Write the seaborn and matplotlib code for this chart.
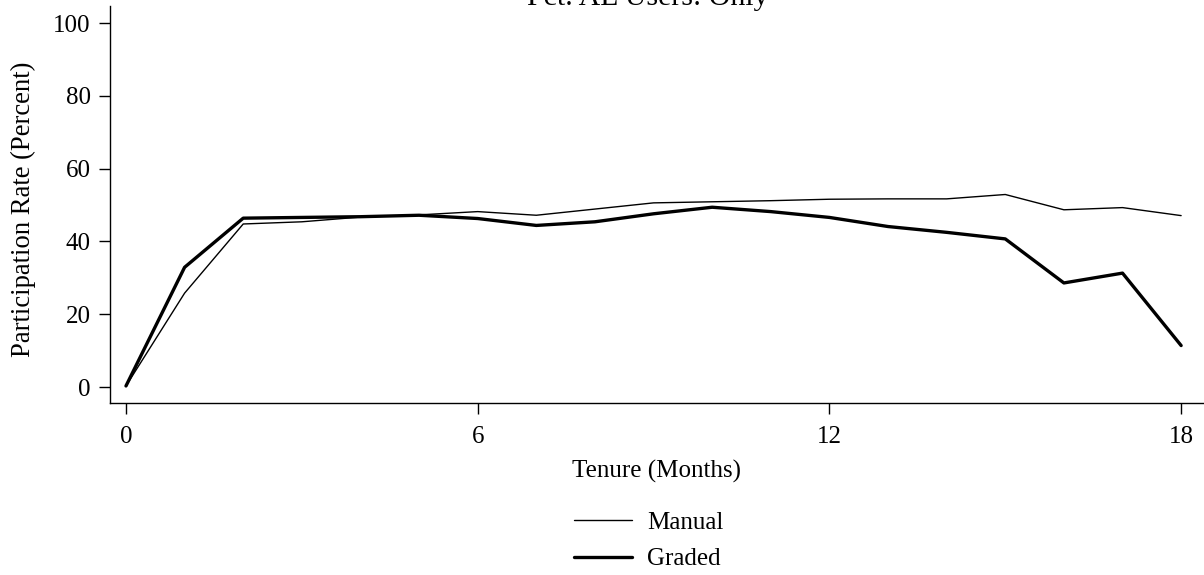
import matplotlib
matplotlib.use("Agg")
import matplotlib.pyplot as plt
import seaborn as sns
import pandas as pd

# Participation rate by tenure month, manual vs. graded
months = list(range(0, 19))
manual = [0.3, 25.8, 44.8, 45.4, 46.7, 47.3, 48.2, 47.2, 48.9, 50.6,
          50.9, 51.2, 51.6, 51.7, 51.7, 52.9, 48.7, 49.3, 47.1]
graded = [0.3, 32.9, 46.4, 46.6, 46.8, 47.2, 46.3, 44.4, 45.4, 47.6,
          49.4, 48.2, 46.6, 44.1, 42.5, 40.7, 28.6, 31.3, 11.4]
x_ticks = [0, 6, 12, 18]
y_ticks = [0, 20, 40, 60, 80, 100]
title = "Pct. AL Users: Only"

sns.set_theme(style="ticks")
plt.rcParams["font.family"] = ["Liberation Serif", "DejaVu Serif"]
plt.rcParams["font.size"] = 18
plt.rcParams["text.color"] = "black"
plt.rcParams["axes.labelcolor"] = "black"

df = pd.DataFrame({"Tenure": months, "Manual": manual, "Graded": graded})

fig = plt.figure(figsize=(12.04, 5.75), dpi=100)
ax = fig.add_axes([0.091, 0.2984, 0.909, 0.6906])

sns.lineplot(data=df, x="Tenure", y="Manual", ax=ax, color="black",
             linewidth=1.0, label="Manual")
sns.lineplot(data=df, x="Tenure", y="Graded", ax=ax, color="black",
             linewidth=2.4, label="Graded")

ax.set_xlim(-0.28, 18.39)
ax.set_ylim(-4.5, 104.6)
ax.set_xticks(x_ticks)
ax.set_yticks(y_ticks)
ax.tick_params(axis="both", labelsize=18, length=8, width=1.0,
               color="black", labelcolor="black")
ax.tick_params(axis="x", pad=8.5)
ax.tick_params(axis="y", pad=5.5)
for s in ("top", "right"):
    ax.spines[s].set_visible(False)
for s in ("left", "bottom"):
    ax.spines[s].set_color("black")
    ax.spines[s].set_linewidth(1.0)

ax.set_xlabel("Tenure (Months)", fontsize=18, labelpad=8)
ax.set_ylabel("Participation Rate (Percent)", fontsize=19.2)
ax.yaxis.set_label_coords(-0.067, 0.4895)

fig.text(0.538, 1 - 5 / 575, title, fontsize=21.5, ha="center",
         va="baseline")

leg = ax.legend(loc="upper left", bbox_to_anchor=(561 / 1204, 1 - 499 / 575),
                bbox_transform=fig.transFigure, frameon=False, fontsize=18,
                handlelength=2.35, handletextpad=0.6, labelspacing=0.55,
                borderpad=0, labelcolor="black")

fig.savefig("out.png", dpi=100)
